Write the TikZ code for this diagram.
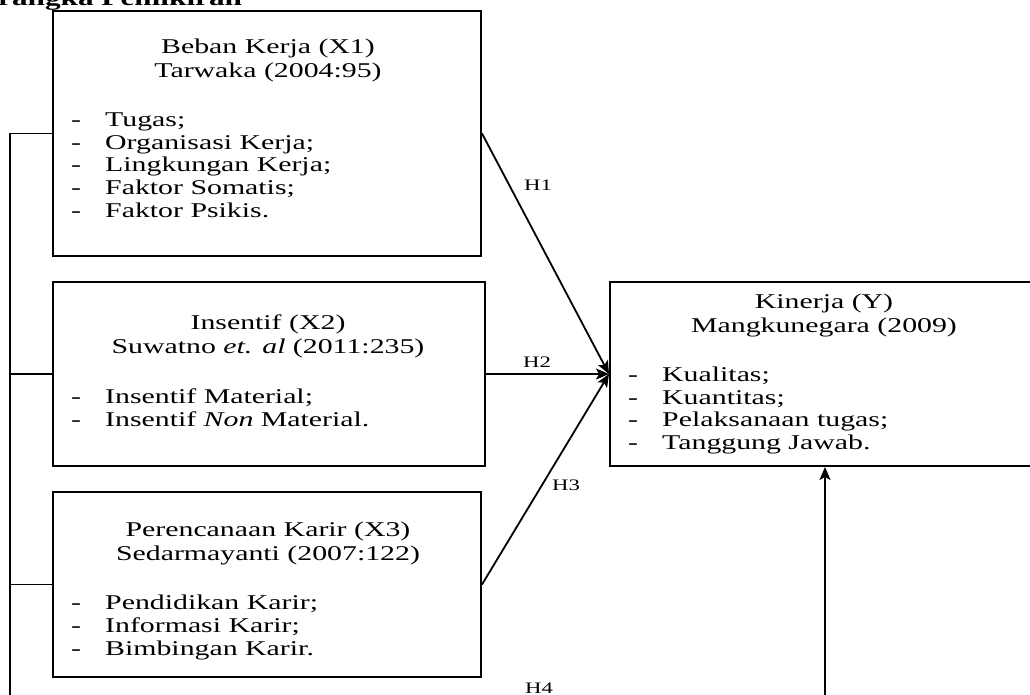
\documentclass[tikz,border=0pt]{standalone}
\usepackage{fontspec}
\setmainfont{Liberation Serif}[FakeStretch=1.42]
\usetikzlibrary{arrows.meta}
\newcommand{\ditem}[1]{\makebox[34pt][l]{-}#1}
\begin{document}
\begin{tikzpicture}[x=1pt,y=-1pt,
  box/.style={draw, line width=2pt, inner sep=0, fill=none},
  hd/.style={inner sep=0, anchor=base, font=\fontsize{21}{24}\selectfont},
  li/.style={inner sep=0, anchor=base west, font=\fontsize{21}{24}\selectfont},
  hl/.style={inner sep=0, anchor=base west, font=\fontsize{16}{19}\selectfont},
  ln/.style={line width=1.8pt},
  arr/.style={ln, -{Stealth[length=13pt,width=11pt,inset=3pt]}}]
\useasboundingbox (0,0) rectangle (1030,695);
% title
\node[inner sep=0, anchor=base west, font=\fontsize{22}{24}\selectfont\bfseries] (title) at (-2,6) {rangka Pemikiran};
% boxes
\node[box, minimum width=428pt, minimum height=245pt] (x1) at (267,133.5) {};
\node[box, minimum width=432pt, minimum height=184pt] (x2) at (269,374) {};
\node[box, minimum width=428pt, minimum height=185pt] (x3) at (267,584.5) {};
\node[box, minimum width=430pt, minimum height=184pt] (y) at (825,374) {};
% X1 text
\node[hd] (x1a) at (268,54) {Beban Kerja (X1)};
\node[hd] (x1b) at (268,78) {Tarwaka (2004:95)};
\node[li] (x1c) at (71,127) {\ditem{Tugas;}};
\node[li] (x1d) at (71,149.5) {\ditem{Organisasi Kerja;}};
\node[li] (x1e) at (71,172) {\ditem{Lingkungan Kerja;}};
\node[li] (x1f) at (71,194.5) {\ditem{Faktor Somatis;}};
\node[li] (x1g) at (71,217) {\ditem{Faktor Psikis.}};
% X2 text
\node[hd] (x2a) at (268,329) {Insentif (X2)};
\node[hd] (x2b) at (268,353) {Suwatno \textit{et. al} (2011:235)};
\node[li] (x2c) at (71,403) {\ditem{Insentif Material;}};
\node[li] (x2d) at (71,426) {\ditem{Insentif \textit{Non} Material.}};
% X3 text
\node[hd] (x3a) at (268,536) {Perencanaan Karir (X3)};
\node[hd] (x3b) at (268,560) {Sedarmayanti (2007:122)};
\node[li] (x3c) at (71,609) {\ditem{Pendidikan Karir;}};
\node[li] (x3d) at (71,632) {\ditem{Informasi Karir;}};
\node[li] (x3e) at (71,655) {\ditem{Bimbingan Karir.}};
% Y text
\node[hd] (ya) at (824,308) {Kinerja (Y)};
\node[hd] (yb) at (824,332) {Mangkunegara (2009)};
\node[li] (yc) at (628,381) {\ditem{Kualitas;}};
\node[li] (yd) at (628,404) {\ditem{Kuantitas;}};
\node[li] (ye) at (628,426) {\ditem{Pelaksanaan tugas;}};
\node[li] (yf) at (628,449) {\ditem{Tanggung Jawab.}};
% connectors
\coordinate (lb) at (10,700);
\coordinate (rb) at (825,700);
\draw[ln] (x1.west) -| (lb);
\draw[ln] (x2.west) -- (x2.west -| lb);
\draw[ln] (x3.west) -- (x3.west -| lb);
\draw[arr] (x1.east) -- (y.west);
\draw[arr] (x2.east) -- (y.west);
\draw[arr] (x3.east) -- (y.west);
\draw[arr] (rb) -- (y.south);
% labels
\node[hl] (h1) at (524,190) {H1};
\node[hl] (h2) at (523,367) {H2};
\node[hl] (h3) at (552,490) {H3};
\node[hl] (h4) at (525,693) {H4};
\end{tikzpicture}
\end{document}
